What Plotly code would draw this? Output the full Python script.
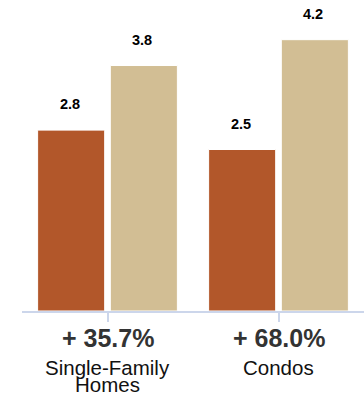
import plotly.graph_objects as go

categories = ["Single-Family Homes", "Condos"]
category_lines = [["Single-Family", "Homes"], ["Condos"]]
change_labels = ["+ 35.7%", "+ 68.0%"]
series_before = [2.8, 2.5]
series_after = [3.8, 4.2]
value_labels_before = ["2.8", "2.5"]
value_labels_after = ["3.8", "4.2"]

ORANGE = "#B2572A"
TAN = "#D2BE94"
AXIS = "#CCD6EB"
FONT = "Liberation Sans, Arial, Helvetica, sans-serif"

BARGAP = 0.15
GROUPGAP = 0.077
slot = (1 - BARGAP) / 2

fig = go.Figure()
fig.add_bar(x=list(range(len(categories))), y=series_before, marker=dict(color=ORANGE, line=dict(color="white", width=1)),
            hoverinfo="skip")
fig.add_bar(x=list(range(len(categories))), y=series_after, marker=dict(color=TAN, line=dict(color="white", width=1)),
            hoverinfo="skip")

annotations = []
for i in range(len(categories)):
    for off, val, lab in ((-slot / 2, series_before[i], value_labels_before[i]),
                          (slot / 2, series_after[i], value_labels_after[i])):
        annotations.append(dict(x=i + off, y=val, xref="x", yref="y", text="<b>%s</b>" % lab,
                                showarrow=False, yanchor="middle", xshift=-1.5, yshift=26,
                                font=dict(family=FONT, size=14.5, color="#000000")))
    annotations.append(dict(x=i, y=0, xref="x", yref="paper", text="<b>%s</b>" % change_labels[i],
                            showarrow=False, yanchor="middle", yshift=-27,
                            font=dict(family=FONT, size=25, color="#333333")))
    for j, line in enumerate(category_lines[i]):
        annotations.append(dict(x=i, y=0, xref="x", yref="paper", text=line,
                                showarrow=False, yanchor="middle", yshift=-56 - 17.5 * j,
                                font=dict(family=FONT, size=20.5, color="#111111")))

fig.update_layout(
    width=364, height=401,
    margin=dict(l=22, r=0, t=0, b=90),
    barmode="group", bargap=BARGAP, bargroupgap=GROUPGAP,
    plot_bgcolor="white", paper_bgcolor="white",
    showlegend=False,
    annotations=annotations,
    xaxis=dict(range=[-0.5, 1.5], tickmode="array", tickvals=list(range(len(categories))),
               ticktext=["" for _ in categories], tickson="boundaries",
               ticks="outside", ticklen=9, tickwidth=2, tickcolor=AXIS,
               showline=True, linecolor=AXIS, linewidth=2, showgrid=False, zeroline=False,
               fixedrange=True),
    yaxis=dict(range=[0, 311 / 64.6], visible=False, showgrid=False, zeroline=False, fixedrange=True),
)

fig.write_html("out.html", config={"displayModeBar": False})
